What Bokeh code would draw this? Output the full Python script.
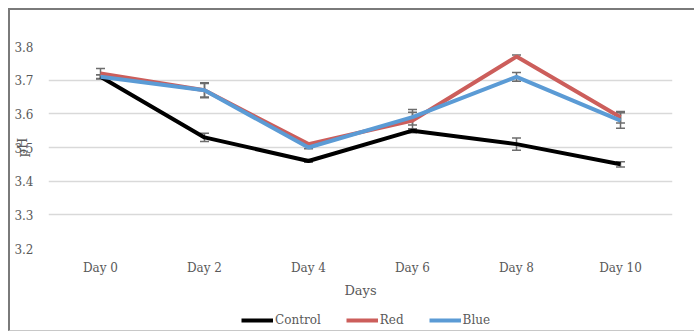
from bokeh.plotting import figure
from bokeh.layouts import column
from bokeh.models import ColumnDataSource, Whisker, Legend, LegendItem, FactorRange, FixedTicker, TeeHead
from bokeh.embed import file_html
from bokeh.resources import INLINE

days = ["Day 0", "Day 2", "Day 4", "Day 6", "Day 8", "Day 10"]
control = [3.71, 3.53, 3.46, 3.55, 3.51, 3.45]
control_err = [0.006, 0.012, 0.004, 0.006, 0.018, 0.008]
red = [3.72, 3.67, 3.51, 3.58, 3.77, 3.59]
red_err = [0.015, 0.022, 0.004, 0.025, 0.005, 0.017]
blue = [3.71, 3.67, 3.50, 3.59, 3.71, 3.58]
blue_err = [0.006, 0.020, 0.004, 0.023, 0.013, 0.023]
y_ticks = [3.2, 3.3, 3.4, 3.5, 3.6, 3.7, 3.8]
series_names = ["Control", "Red", "Blue"]
series_colors = ["black", "#CC5E5B", "#5B9BD5"]

FONT = "DejaVu Serif"
TXT = "#595959"

p = figure(x_range=FactorRange(*days), y_range=(3.2, 3.8),
           width=684, height=302, output_backend="svg", toolbar_location=None,
           min_border_left=38, min_border_right=22, min_border_top=36, min_border_bottom=64)
p.outline_line_color = None
p.background_fill_color = "white"
p.border_fill_color = "white"

for vals, errs, col in zip([control, red, blue], [control_err, red_err, blue_err], series_colors):
    src = ColumnDataSource(dict(x=days, y=vals,
                                upper=[v + e for v, e in zip(vals, errs)],
                                lower=[v - e for v, e in zip(vals, errs)]))
    p.line("x", "y", source=src, line_color=col, line_width=4)
    w = Whisker(base="x", upper="upper", lower="lower", source=src,
                line_color="#6d6d6d", line_width=1.5,
                upper_head=TeeHead(size=9, line_color="#6d6d6d", line_width=1.5),
                lower_head=TeeHead(size=9, line_color="#6d6d6d", line_width=1.5))
    p.add_layout(w)

# axes
p.xaxis.axis_line_color = None
p.xaxis.major_tick_line_color = None
p.xaxis.minor_tick_line_color = None
p.xaxis.major_label_text_font = FONT
p.xaxis.major_label_text_font_size = "12px"
p.xaxis.major_label_text_color = TXT
p.xaxis.major_label_standoff = 6
p.xaxis.axis_label = "Days"
p.xaxis.axis_label_text_font = FONT
p.xaxis.axis_label_text_font_size = "13px"
p.xaxis.axis_label_text_font_style = "normal"
p.xaxis.axis_label_text_color = TXT
p.xaxis.axis_label_standoff = 5

p.yaxis.ticker = FixedTicker(ticks=y_ticks)
p.yaxis.axis_line_color = None
p.yaxis.major_tick_line_color = None
p.yaxis.minor_tick_line_color = None
p.yaxis.major_tick_out = 0
p.yaxis.minor_tick_out = 0
p.yaxis.major_label_text_font = FONT
p.yaxis.major_label_text_font_size = "12px"
p.yaxis.major_label_text_color = TXT
p.yaxis.major_label_standoff = 15
p.yaxis.axis_label = "pH"
p.yaxis.axis_label_text_font = FONT
p.yaxis.axis_label_text_font_size = "13px"
p.yaxis.axis_label_text_font_style = "normal"
p.yaxis.axis_label_text_color = TXT
p.yaxis.axis_label_standoff = -19

p.xgrid.grid_line_color = None
p.ygrid.grid_line_color = "#d9d9d9"
p.ygrid.grid_line_width = 1.5

# legend strip below the chart
lf = figure(x_range=(0, 1), y_range=(0, 1), width=684, height=18,
            output_backend="svg", toolbar_location=None,
            min_border_left=0, min_border_right=0, min_border_top=0, min_border_bottom=0)
lf.axis.visible = False
lf.grid.visible = False
lf.outline_line_color = None
nan = float("nan")
items = []
for name, col in zip(series_names, series_colors):
    r = lf.line(x=[nan], y=[nan], line_color=col, line_width=4)
    items.append(LegendItem(label=name, renderers=[r]))
legend = Legend(items=items, orientation="horizontal", location=(193, 3),
                border_line_color=None, background_fill_alpha=0,
                glyph_width=32, glyph_height=14, label_standoff=2, spacing=25,
                padding=0, margin=0,
                label_text_font=FONT, label_text_font_size="12px", label_text_color=TXT)
lf.add_layout(legend, "center")

layout = column(p, lf, spacing=0,
                styles={"margin-left": "8px", "margin-top": "8px",
                        "border-top": "2px solid #7a7a7a", "border-left": "2px solid #7a7a7a",
                        "border-bottom": "1px solid #c8c8c8"})

open("out.html", "w").write(file_html(layout, INLINE))
